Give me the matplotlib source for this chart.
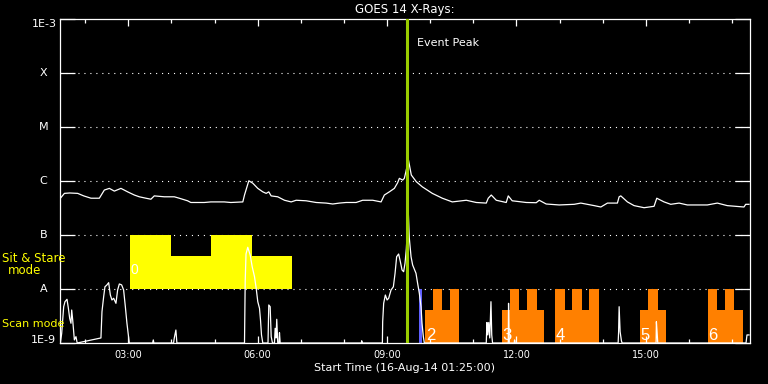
import matplotlib
matplotlib.use('Agg')
import matplotlib.pyplot as plt
import matplotlib.transforms as mtransforms
from matplotlib.ticker import FixedLocator, FuncFormatter, NullLocator

plt.rcParams['lines.scale_dashes'] = False
plt.rcParams['font.family'] = ['DejaVu Sans']

# ---------------- data (time in decimal hours of 16-Aug-14, flux W/m^2) -------------
long_t = [1.426, 1.519, 1.641, 1.827, 1.966, 2.135, 2.329, 2.445, 2.561, 2.677, 2.830, 2.985,
          3.140, 3.256, 3.409, 3.525, 3.603, 3.835, 4.067, 4.182, 4.375, 4.451, 4.762, 4.915,
          5.225, 5.378, 5.656, 5.695, 5.795, 5.887, 6.003, 6.119, 6.198, 6.258, 6.313, 6.466,
          6.622, 6.777, 6.893, 7.124, 7.356, 7.588, 7.741, 7.896, 8.051, 8.283, 8.435, 8.667,
          8.862, 8.938, 9.054, 9.170, 9.246, 9.286, 9.362, 9.401, 9.436, 9.471, 9.494, 9.563,
          9.679, 9.818, 10.050, 10.282, 10.513, 10.838, 11.069, 11.301, 11.347, 11.417, 11.533,
          11.764, 11.811, 11.903, 12.228, 12.459, 12.529, 12.691, 12.992, 13.339, 13.494, 13.803,
          13.958, 14.111, 14.342, 14.382, 14.421, 14.574, 14.729, 14.961, 15.192, 15.255, 15.424,
          15.579, 15.772, 15.964, 16.427, 16.659, 16.890, 17.277, 17.317, 17.393]
long_f = [4.8e-7, 5.9e-7, 6.0e-7, 5.9e-7, 5.3e-7, 4.8e-7, 4.8e-7, 6.8e-7, 7.3e-7, 6.5e-7, 7.3e-7, 6.3e-7,
          5.5e-7, 5.1e-7, 4.8e-7, 4.6e-7, 5.3e-7, 5.1e-7, 5.1e-7, 4.8e-7, 4.3e-7, 4.0e-7, 4.0e-7, 4.1e-7,
          4.1e-7, 4.0e-7, 4.1e-7, 5.5e-7, 1.01e-6, 9.1e-7, 7.3e-7, 6.3e-7, 5.9e-7, 6.3e-7, 5.3e-7, 5.1e-7,
          4.4e-7, 4.1e-7, 4.4e-7, 4.3e-7, 4.0e-7, 3.9e-7, 3.75e-7, 3.9e-7, 4.0e-7, 4.0e-7, 4.4e-7, 4.4e-7,
          4.1e-7, 5.5e-7, 6.3e-7, 7.3e-7, 9.3e-7, 1.12e-6, 1.04e-6, 1.12e-6, 1.47e-6, 1.98e-6, 2.52e-6, 1.29e-6,
          9.7e-7, 7.8e-7, 5.9e-7, 4.8e-7, 4.1e-7, 4.4e-7, 4.0e-7, 3.9e-7, 4.8e-7, 5.5e-7, 4.4e-7,
          4.0e-7, 5.3e-7, 4.3e-7, 4.0e-7, 3.96e-7, 4.4e-7, 3.75e-7, 3.6e-7, 3.7e-7, 3.9e-7, 3.5e-7,
          3.3e-7, 3.9e-7, 3.9e-7, 5.1e-7, 5.3e-7, 4.1e-7, 3.5e-7, 3.2e-7, 3.4e-7, 4.8e-7, 4.1e-7,
          3.7e-7, 3.9e-7, 3.6e-7, 3.6e-7, 3.9e-7, 3.5e-7, 3.3e-7, 3.7e-7, 3.7e-7]

short_t = [1.426, 1.456, 1.502, 1.532, 1.579, 1.611, 1.641, 1.671, 1.688, 1.711, 1.750, 1.787, 1.815,
           2.366, 2.390, 2.429, 2.459, 2.505, 2.545, 2.584, 2.621, 2.661, 2.714, 2.753, 2.793, 2.846,
           2.892, 2.932, 2.969, 3.001, 3.024,
           3.564, 3.580, 3.594, 4.050, 4.067, 4.104, 4.127,
           5.695, 5.711, 5.730, 5.771, 5.827, 5.873, 5.927, 5.966, 6.003, 6.043, 6.066, 6.089, 6.119,
           6.240, 6.258, 6.290, 6.314, 6.344, 6.390, 6.406, 6.425, 6.443, 6.466, 6.494, 6.506, 6.522,
           8.405, 8.412, 8.428,
           8.892, 8.899, 8.922, 8.961, 9.001, 9.038, 9.093, 9.147, 9.186, 9.223, 9.269, 9.309, 9.348,
           9.385, 9.417, 9.447, 9.494, 9.517, 9.557, 9.594, 9.672, 9.709, 9.749, 9.788, 9.811, 9.842, 9.865,
           11.301, 11.317, 11.336, 11.359, 11.382, 11.410, 11.428, 11.447,
           11.811, 11.818, 11.834, 11.950, 11.957, 11.973,
           14.359, 14.370, 14.382, 14.405, 14.435, 14.451,
           15.239, 15.246, 15.262, 15.278,
           17.324, 17.347, 17.393]
short_f = [1e-9, 1.51e-9, 4.70e-9, 5.82e-9, 6.45e-9, 4.39e-9, 2.87e-9, 2.32e-9, 4.08e-9, 2.67e-9, 1.14e-9, 1.31e-9, 1e-9,
           1.24e-9, 3.80e-9, 7.20e-9, 1.10e-8, 1.19e-8, 1.31e-8, 7.74e-9, 6.26e-9, 6.73e-9, 5.43e-9, 9.58e-9,
           1.24e-8, 1.19e-8, 9.58e-9, 4.70e-9, 2.32e-9, 1.41e-9, 1e-9,
           1e-9, 1.14e-9, 1e-9, 1e-9, 1.24e-9, 1.74e-9, 1e-9,
           1e-9, 1.37e-8, 4.45e-8, 5.92e-8, 4.26e-8, 2.59e-8, 1.69e-8, 1.03e-8, 5.82e-9, 4.39e-9, 2.67e-9,
           1.41e-9, 1e-9,
           1e-9, 5.06e-9, 4.70e-9, 1.31e-9, 1e-9, 1e-9, 1.87e-9, 1.24e-9, 2.75e-9, 1e-9, 1e-9, 1.55e-9, 1e-9,
           1e-9, 1.1e-9, 1e-9,
           1e-9, 2.48e-9, 5.43e-9, 7.74e-9, 6.26e-9, 6.73e-9, 9.58e-9, 1.10e-8, 1.95e-8, 3.96e-8, 4.45e-8,
           3.20e-8, 2.25e-8, 2.09e-8, 2.99e-8, 5.5e-8, 2.55e-7, 8.69e-8, 3.96e-8, 2.78e-8, 1.95e-8, 1.28e-8,
           8.33e-9, 4.70e-9, 2.32e-9, 1.31e-9, 1e-9,
           1e-9, 2.4e-9, 1.41e-9, 2.4e-9, 1.24e-9, 5.82e-9, 1.41e-9, 1e-9,
           1e-9, 5.43e-9, 1e-9, 1e-9, 1.14e-9, 1e-9,
           1e-9, 1.62e-9, 4.70e-9, 1.62e-9, 1.1e-9, 1e-9,
           1e-9, 2.48e-9, 1.6e-9, 1e-9,
           1e-9, 1.41e-9, 1.41e-9]

# Sit & Stare mode blocks
stare_edges = [3.031, 3.981, 4.908, 5.864, 6.800]
stare_tops = [1e-7, 4.1e-8, 1e-7, 4.1e-8]
stare_label = '0'

# Scan mode blocks
scan_edges = [[9.888, 10.067, 10.275, 10.467, 10.676],
              [11.659, 11.844, 12.069, 12.238, 12.470, 12.648],
              [12.899, 13.131, 13.293, 13.525, 13.687, 13.919],
              [14.867, 15.059, 15.277, 15.469],
              [16.443, 16.659, 16.830, 17.046, 17.255]]
scan_tops = [[4.1e-9, 1e-8, 4.1e-9, 1e-8],
             [4.1e-9, 1e-8, 4.1e-9, 1e-8, 4.1e-9],
             [1e-8, 4.1e-9, 1e-8, 4.1e-9, 1e-8],
             [4.1e-9, 1e-8, 4.1e-9],
             [1e-8, 4.1e-9, 1e-8, 4.1e-9]]
scan_labels = ['2', '3', '4', '5', '6']

blue_edges = [9.749, 9.818]
event_peak = 9.464

ytick_vals = [1e-9, 1e-8, 1e-7, 1e-6, 1e-5, 1e-4, 1e-3]
ytick_text = ['1E-9', 'A', 'B', 'C', 'M', 'X', '1E-3']
xmajor = [3, 6, 9, 12, 15]
xminor = list(range(2, 18))
t_start, t_end = 1.4167, 17.4167

# ---------------- figure --------------------------------------------------------------
fig = plt.figure(figsize=(7.68, 3.84), dpi=100, facecolor='black')
ax = fig.add_axes([60 / 768, 41 / 384, 690 / 768, 324 / 384], facecolor='black')
ax.set_yscale('log')
ax.set_xlim(t_start, t_end)
ax.set_ylim(1e-9, 1e-3)

# dotted grid
for v in ytick_vals[1:-1]:
    ax.axhline(v, color='white', lw=0.8, linestyle=(0, (0.8, 3.5)), zorder=0.5)

# mode blocks
ax.fill_between(stare_edges, stare_tops + [stare_tops[-1]], 1e-8, step='post',
                color='#ffff00', lw=0, zorder=1)
ax.text(stare_edges[0] + 0.03, 1.67e-8, stare_label, color='white', fontsize=10,
        family='Liberation Sans', va='bottom', ha='left', zorder=5)
for edges, tops, lab in zip(scan_edges, scan_tops, scan_labels):
    ax.fill_between(edges, tops + [tops[-1]], 1e-9, step='post', color='#ff8000', lw=0, zorder=1)
    ax.text(edges[0] + 0.01, 1.14e-9, lab, color='white', fontsize=12,
            family='Liberation Sans', va='baseline', ha='left', zorder=5)
ax.fill_between(blue_edges, [1e-8, 1e-8], 1e-9, color='#6060ff', lw=0, zorder=1)

# curves
ax.plot(long_t, long_f, color='white', lw=0.9, zorder=3)
ax.plot(short_t, short_f, color='white', lw=0.9, zorder=3, clip_on=True)

# event peak
ax.axvline(event_peak, color='#9acd00', lw=2.2, zorder=4)
ax.text(event_peak + 0.24, 4.45e-4, 'Event Peak', color='white', fontsize=8, va='top', ha='left')

# spines / ticks
for s in ax.spines.values():
    s.set_color('white')
    s.set_linewidth(0.9)
ax.set_yticks(ytick_vals)
ax.yaxis.set_minor_locator(NullLocator())
ax.tick_params(axis='y', which='major', direction='in', length=10.5, width=0.9,
               left=True, right=True, labelleft=False, colors='white')
ax.xaxis.set_major_locator(FixedLocator(xmajor))
ax.xaxis.set_minor_locator(FixedLocator(xminor))
ax.xaxis.set_major_formatter(FuncFormatter(lambda v, p: f"{int(round(v)):02d}:00"))
ax.tick_params(axis='x', which='major', direction='in', length=5, width=0.9,
               top=True, bottom=True, colors='white', labelsize=7, pad=5)
ax.tick_params(axis='x', which='minor', direction='in', length=3, width=0.9,
               top=True, bottom=True, colors='white')

# y labels
base = mtransforms.blended_transform_factory(ax.transAxes, ax.transData)
for v, t in zip(ytick_vals, ytick_text):
    if t == '1E-3':
        tr = mtransforms.offset_copy(base, fig=fig, x=-3, y=0, units='dots')
        ax.text(0, v, t, transform=tr, color='white', fontsize=8, ha='right', va='top')
    elif t == '1E-9':
        tr = mtransforms.offset_copy(base, fig=fig, x=-4, y=0, units='dots')
        ax.text(0, v, t, transform=tr, color='white', fontsize=8, ha='right', va='baseline')
    else:
        tr = mtransforms.offset_copy(base, fig=fig, x=-16.5, y=0, units='dots')
        ax.text(0, v, t, transform=tr, color='white', fontsize=8, ha='center', va='center')

ax.set_title('GOES 14 X-Rays:', color='white', fontsize=8.5, pad=4)
ax.set_xlabel('Start Time (16-Aug-14 01:25:00)', color='white', fontsize=8, labelpad=2)

# mode captions
fig.text(2 / 768, 1 - 259 / 384, 'Sit & Stare', color='#ffff00', fontsize=8.5, va='center', ha='left')
fig.text(24.5 / 768, 1 - 271 / 384, 'mode', color='#ffff00', fontsize=8.5, va='center', ha='center')
fig.text(2 / 768, 1 - 324 / 384, 'Scan mode', color='#ffff00', fontsize=8, va='center', ha='left')

fig.savefig('out.png', dpi=100, facecolor='black')
